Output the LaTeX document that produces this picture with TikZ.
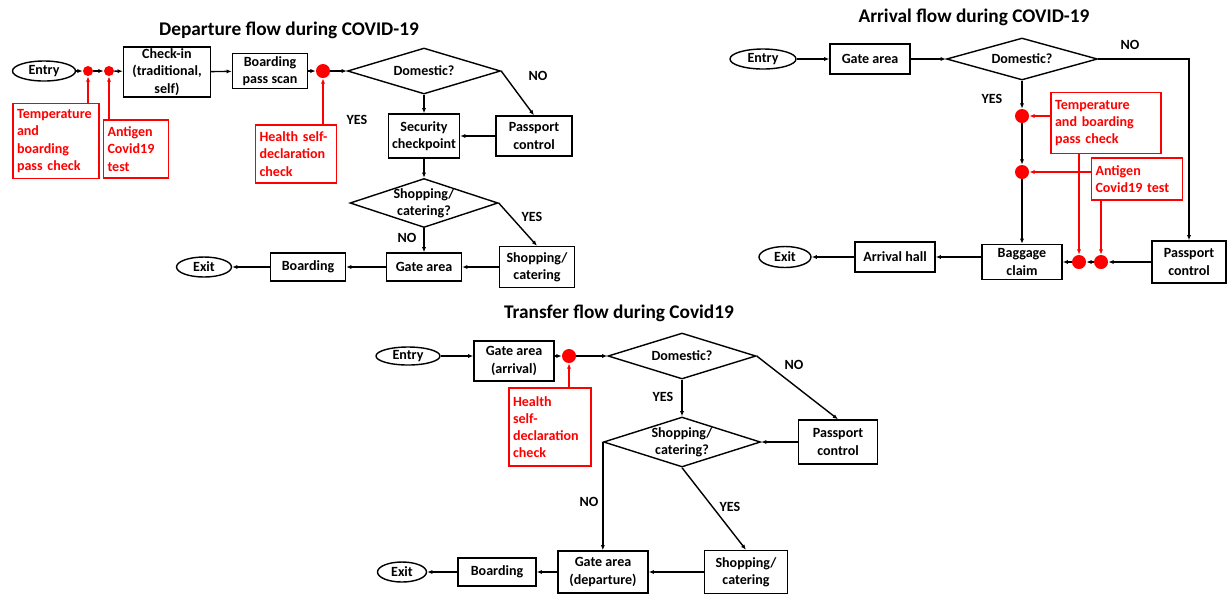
\documentclass[tikz,border=0pt]{standalone}
\usepackage{fontspec}
\setmainfont{Carlito}
\usetikzlibrary{arrows.meta,shapes.geometric,positioning}

\tikzset{
  every node/.style={font=\bfseries\fontsize{8}{9.8}\selectfont},
  title/.style={font=\bfseries\fontsize{11}{13}\selectfont},
  terminal/.style={ellipse, draw, line width=0.8pt, inner sep=0pt},
  box/.style={rectangle, draw, line width=0.8pt, align=center, inner xsep=1pt, inner ysep=0pt},
  decision/.style={diamond, draw, line width=0.8pt, inner sep=0pt},
  check/.style={rectangle, draw=red, text=red, line width=0.7pt, align=left, inner xsep=0.08cm, inner ysep=1pt},
  dot/.style={circle, fill=red, inner sep=0pt, minimum size=#1},
  arr/.style={line width=0.8pt, -{Latex[length=3pt,width=2.4pt]}},
  redarr/.style={draw=red, line width=0.8pt, -{Latex[length=3pt,width=2.4pt]}}
}

\begin{document}
\begin{tikzpicture}[x=0.02cm, y=-0.02cm]
\useasboundingbox (0,0) rectangle (1229,600);
% the titles
\node[title] (dTitle) at (289,30) {Departure flow during COVID-19};
\node[title] (aTitle) at (974,17) {Arrival flow during COVID-19};
\node[title] (tTitle) at (619,313) {Transfer flow during Covid19};

% departure flow
\node[terminal, minimum width=1.26cm, minimum height=0.4cm] (dEntry) at (44,71) {Entry};
\node[dot=0.2cm] (dDot1) at (88,71) {};
\node[dot=0.2cm] (dDot2) at (109,71) {};
\node[box, minimum width=1.74cm, minimum height=1.0cm] (dCheck) at (167,72) {Check-in\\(traditional,\\self)};
\node[box, minimum width=1.5cm, minimum height=0.7cm] (dScan) at (270,71) {Boarding\\pass scan};
\node[dot=0.28cm] (dDot3) at (323,71) {};
\node[decision, minimum width=3.06cm, minimum height=0.92cm, label={[align=center]center:Domestic?}] (dDom) at (424,71) {};
\node[box, minimum width=1.42cm, minimum height=0.88cm] (dSec) at (424,136) {Security\\checkpoint};
\node[box, minimum width=1.52cm, minimum height=0.8cm] (dPass) at (534,136) {Passport\\control};
\node[decision, minimum width=2.96cm, minimum height=0.98cm, label={[align=center]center:Shopping/\\catering?}] (dShopQ) at (424,203) {};
\node[box, minimum width=1.5cm, minimum height=0.82cm] (dShop) at (537,267) {Shopping/\\catering};
\node[box, minimum width=1.5cm, minimum height=0.56cm] (dGate) at (424,267) {Gate area};
\node[box, minimum width=1.5cm, minimum height=0.56cm] (dBoard) at (308,267) {Boarding};
\node[terminal, minimum width=1.1cm, minimum height=0.4cm] (dExit) at (204,267) {Exit};
% departure checks
\node[check, text width=1.56cm, minimum height=1.5cm] (dTemp) at (56,141) {Temperature\\and\\boarding\\pass check};
\node[check, text width=1.14cm, minimum height=1.16cm] (dAnt) at (136,149) {Antigen\\Covid19\\test};
\node[check, text width=1.46cm, minimum height=1.16cm] (dHealth) at (296,154) {Health self-\\declaration\\check};
% departure answers
\node (dYes1) at (357,120) {YES};
\node (dNo1) at (538,76) {NO};
\node (dYes2) at (532,217) {YES};
\node (dNo2) at (407,238) {NO};
% departure connectors
\draw[arr] (dEntry) -- (dDot1);
\draw[arr] (dDot1) -- (dDot2);
\draw[arr] (dDot2) -- (dCheck);
\draw[arr] (dCheck) -- (dScan);
\draw[arr] (dScan) -- (dDot3);
\draw[arr] (dDot3) -- (dDom);
\draw[arr] (dDom) -- (dSec);
\draw[arr] (dDom.east) -- (dPass.north);
\draw[arr] (dPass) -- (dSec);
\draw[arr] (dSec) -- (dShopQ);
\draw[arr] (dShopQ.east) -- (dShop.north);
\draw[arr] (dShopQ) -- (dGate);
\draw[arr] (dShop) -- (dGate);
\draw[arr] (dGate) -- (dBoard);
\draw[arr] (dBoard) -- (dExit);
\foreach \c/\d in {dTemp/dDot1, dAnt/dDot2, dHealth/dDot3}
  \draw[redarr] (\d |- \c.north) -- (\d);

% arrival flow
\node[terminal, minimum width=1.32cm, minimum height=0.4cm] (aEntry) at (763,59) {Entry};
\node[box, minimum width=1.6cm, minimum height=0.6cm] (aGate) at (870,59) {Gate area};
\node[decision, minimum width=3.02cm, minimum height=0.84cm, label={[align=center]center:Domestic?}] (aDom) at (1022,59) {};
\node[box, minimum width=1.48cm, minimum height=0.84cm] (aPass) at (1189,262) {Passport\\control};
\node[dot=0.28cm] (aDot1) at (1022,116) {};
\node[dot=0.28cm] (aDot2) at (1022,172) {};
\node[dot=0.28cm] (aDot3) at (1079,262) {};
\node[dot=0.28cm] (aDot4) at (1101,262) {};
\node[box, minimum width=1.6cm, minimum height=0.7cm] (aBag) at (1022,262) {Baggage\\claim};
\node[box, minimum width=1.6cm, minimum height=0.6cm] (aHall) at (895,257) {Arrival hall};
\node[terminal, minimum width=1.04cm, minimum height=0.42cm] (aExit) at (785,257) {Exit};
% arrival checks
\node[check, text width=2.04cm, minimum height=1.22cm] (aTemp) at (1106,123) {Temperature\\and boarding\\pass check};
\node[check, text width=1.66cm, minimum height=0.84cm] (aAnt) at (1137,179) {Antigen\\Covid19 test};
% arrival answers
\node (aNo) at (1130,45) {NO};
\node (aYes) at (992,99) {YES};
% arrival connectors
\draw[arr] (aEntry) -- (aGate);
\draw[arr] (aGate) -- (aDom);
\draw[arr] (aDom.east) -| (aPass.north);
\draw[arr] (aDom) -- (aDot1);
\draw[arr] (aDot1) -- (aDot2);
\draw[arr] (aDot2) -- (aBag);
\draw[arr] (aPass) -- (aDot4);
\draw[arr] (aDot4) -- (aDot3);
\draw[arr] (aDot3) -- (aBag);
\draw[arr] (aBag.west |- aHall) -- (aHall);
\draw[arr] (aHall) -- (aExit);
\draw[redarr] (aTemp.west |- aDot1) -- (aDot1);
\draw[redarr] (aAnt.west |- aDot2) -- (aDot2);
\draw[redarr] (aDot3 |- aTemp.south) -- (aDot3);
\draw[redarr] (aDot4 |- aAnt.south) -- (aDot4);

% transfer flow
\node[terminal, minimum width=1.28cm, minimum height=0.36cm] (tEntry) at (408,356) {Entry};
\node[box, minimum width=1.6cm, minimum height=0.8cm] (tGateA) at (514,361) {Gate area\\(arrival)};
\node[dot=0.28cm] (tDot) at (569,356) {};
\node[decision, minimum width=2.96cm, minimum height=0.92cm, label={[align=center]center:Domestic?}] (tDom) at (682,356) {};
\node[box, minimum width=1.58cm, minimum height=0.88cm] (tPass) at (838,442) {Passport\\control};
\node[decision, minimum width=3.14cm, minimum height=1.0cm, label={[align=center]center:Shopping/\\catering?}] (tShopQ) at (682,442) {};
\node[box, minimum width=1.8cm, minimum height=0.84cm] (tGateD) at (603,572) {Gate area\\(departure)};
\node[box, minimum width=1.66cm, minimum height=0.86cm] (tShop) at (746,572) {Shopping/\\catering};
\node[box, minimum width=1.56cm, minimum height=0.56cm] (tBoard) at (497,572) {Boarding};
\node[terminal, minimum width=0.98cm, minimum height=0.4cm] (tExit) at (402,572) {Exit};
% transfer check
\node[check, text width=1.48cm, minimum height=1.56cm] (tHealth) at (550,427) {Health\\self-\\declaration\\check};
% transfer answers
\node (tNo1) at (794,365) {NO};
\node (tYes1) at (663,397) {YES};
\node (tNo2) at (589,502) {NO};
\node (tYes2) at (730,507) {YES};
% transfer connectors
\draw[arr] (tEntry) -- (tGateA.west |- tEntry);
\draw[arr] (tGateA.east |- tDot) -- (tDot);
\draw[arr] (tDot) -- (tDom);
\draw[arr] (tDom) -- (tShopQ);
\draw[arr] (tDom.east) -- (tPass.north);
\draw[arr] (tPass) -- (tShopQ.east);
\draw[arr] (tShopQ.west) -- (tShopQ.west |- tGateD.north);
\draw[arr] (tShopQ.south) -- (tShop.north);
\draw[arr] (tShop) -- (tGateD);
\draw[arr] (tGateD) -- (tBoard);
\draw[arr] (tBoard) -- (tExit);
\draw[redarr] (tDot |- tHealth.north) -- (tDot);
\end{tikzpicture}
\end{document}
